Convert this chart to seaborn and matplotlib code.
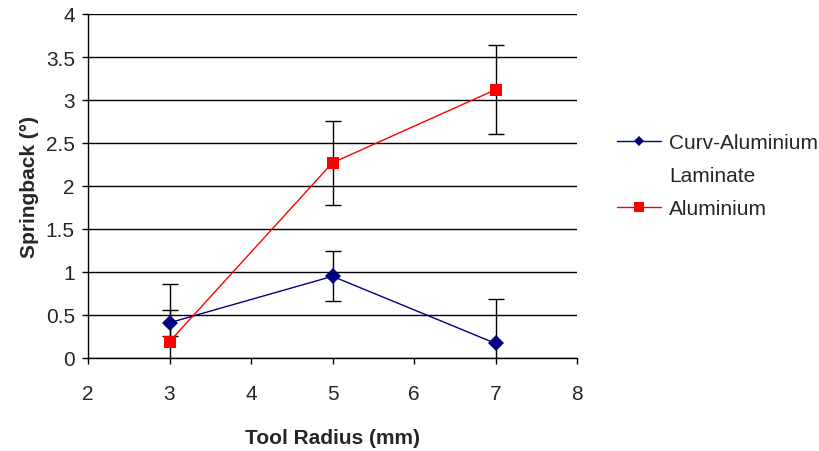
import numpy as np
import pandas as pd
import seaborn as sns
import matplotlib.pyplot as plt
from matplotlib.lines import Line2D

# Data
radius = [3, 5, 7]
laminate = [0.41, 0.95, 0.17]
laminate_err = [0.15, 0.29, 0.52]
aluminium = [0.19, 2.27, 3.12]
aluminium_err = [0.67, 0.49, 0.52]

df = pd.DataFrame({
    'Tool Radius (mm)': radius * 2,
    'Springback': laminate + aluminium,
    'err': laminate_err + aluminium_err,
    'Material': ['Curv-Aluminium Laminate'] * 3 + ['Aluminium'] * 3,
})

sns.set_style('white')
plt.rcParams['font.family'] = ['Liberation Sans', 'DejaVu Sans']

fig = plt.figure(figsize=(8.19, 4.52), dpi=100)
ax = fig.add_axes([88 / 819, 1 - 359 / 452, (577 - 88) / 819, (359 - 15) / 452])

palette = {'Curv-Aluminium Laminate': '#000080', 'Aluminium': '#FF0000'}
markers = {'Curv-Aluminium Laminate': 'D', 'Aluminium': 's'}

# error bars first, so the markers sit on top
for name, grp in df.groupby('Material', sort=False):
    ax.errorbar(grp['Tool Radius (mm)'], grp['Springback'], yerr=grp['err'],
                fmt='none', ecolor='black', elinewidth=1, capsize=5.5, capthick=1, zorder=3)

sns.lineplot(data=df, x='Tool Radius (mm)', y='Springback', hue='Material',
             style='Material', markers=markers, dashes=False, palette=palette,
             markersize=8, linewidth=1, markeredgewidth=0, ax=ax, zorder=4,
             legend=False)

ax.set_xlim(2, 8)
ax.set_ylim(0, 4)
ax.set_xticks(np.arange(2, 9, 1))
ax.set_yticks(np.arange(0, 4.01, 0.5))
ax.set_yticklabels(['0', '0.5', '1', '1.5', '2', '2.5', '3', '3.5', '4'])
ax.yaxis.grid(True, color='black', linewidth=1)
ax.set_axisbelow(True)
for s in ['top', 'right']:
    ax.spines[s].set_visible(False)
for s in ['left', 'bottom']:
    ax.spines[s].set_color('black')
    ax.spines[s].set_linewidth(1)
ax.tick_params(axis='both', which='both', direction='out', length=4.5, width=1,
               color='black', labelsize=15, bottom=True, left=True)
ax.tick_params(axis='x', pad=14)
ax.tick_params(axis='y', pad=5)

ax.set_xlabel('Tool Radius (mm)', fontsize=15, fontweight='bold', labelpad=18)
ax.set_ylabel('Springback (°)', fontsize=15, fontweight='bold', labelpad=5)

# legend: marker next to the first line of the two-line label
h_lam = Line2D([], [], color='#000080', lw=1, marker='D', markersize=5, markeredgewidth=0)
h_blank = Line2D([], [], color='none')
h_al = Line2D([], [], color='#FF0000', lw=1, marker='s', markersize=7, markeredgewidth=0)
ax.legend([h_lam, h_blank, h_al], ['Curv-Aluminium', 'Laminate', 'Aluminium'],
          loc='upper left', bbox_to_anchor=(617 / 819, 1 - 134 / 452),
          bbox_transform=fig.transFigure, frameon=False, fontsize=15,
          handlelength=2.1, handletextpad=0.4, borderpad=0, borderaxespad=0,
          labelspacing=0.67)

fig.savefig('out.png', dpi=100)
